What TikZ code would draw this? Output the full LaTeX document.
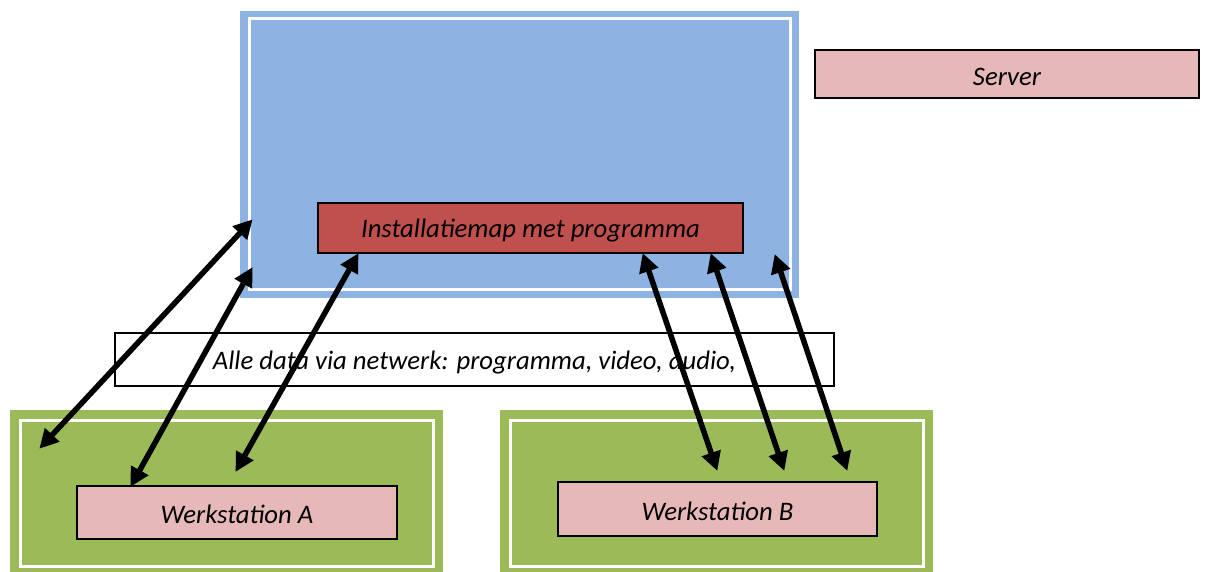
\documentclass[tikz,border=0pt]{standalone}
\usepackage{fontspec}
\setmainfont{Carlito}
\usetikzlibrary{arrows.meta}
\definecolor{srvblue}{HTML}{8DB3E2}
\definecolor{redbox}{HTML}{C0504D}
\definecolor{pinkbox}{HTML}{E6B9B8}
\definecolor{wsgreen}{HTML}{9BBB59}
\tikzset{
  lbl/.style={font=\fontsize{26.7}{32}\selectfont\itshape, inner sep=0pt, draw=black, line width=1.6pt, anchor=center},
  txt/.style={font=\fontsize{26.7}{32}\selectfont\itshape, inner sep=0pt, anchor=center},
  biarrow/.style={line width=5.5pt, {Triangle[length=19pt,width=19pt]}-{Triangle[length=19pt,width=19pt]}, shorten <=-1pt, shorten >=-1pt},
  whiteline/.style={draw=white, line width=3pt}
}
\begin{document}
\begin{tikzpicture}[x=1pt,y=-1pt]
\useasboundingbox (0,0) rectangle (1207,572);
% server region
\fill[srvblue] (240,11) rectangle (799,298);
\draw[whiteline] (249,19) rectangle (790,289);
% workstation regions
\fill[wsgreen] (10,410) rectangle (443,572);
\draw[whiteline] (20,420) rectangle (433,566);
\fill[wsgreen] (500,410) rectangle (933,572);
\draw[whiteline] (510,420) rectangle (923,566);
% boxes
\node[lbl, fill=redbox, minimum width=425pt, minimum height=50pt] (inst) at (530.5,228) {};
\node[txt] at ([yshift=-3pt]inst.center) {Installatiemap met programma};
\node[lbl, fill=pinkbox, minimum width=384pt, minimum height=48pt] (server) at (1007,74) {};
\node[txt] at ([yshift=-3pt]server.center) {Server};
\node[lbl, fill=white, minimum width=719pt, minimum height=53pt] (data) at (474.5,359.5) {};
\node[txt] at ([yshift=-3pt]data.center) {Alle data via netwerk: programma, video, audio,};
\node[lbl, fill=pinkbox, minimum width=320pt, minimum height=53pt] (wsa) at (237,512.5) {};
\node[txt] at ([yshift=-2pt]wsa.center) {Werkstation A};
\node[lbl, fill=pinkbox, minimum width=319pt, minimum height=54pt] (wsb) at (717.5,509) {};
\node[txt] at ([yshift=-2pt]wsb.center) {Werkstation B};
% arrow end points
\coordinate (s1) at (252,220);
\coordinate (s2) at (252,268);
\coordinate (s3) at (358,254);
\coordinate (s4) at (643,254);
\coordinate (s5) at (711,254);
\coordinate (s6) at (775,255);
\coordinate (a1) at (40,448);
\coordinate (a2) at (131,486);
\coordinate (a3) at (236,471);
\coordinate (b1) at (717,470);
\coordinate (b2) at (784,470);
\coordinate (b3) at (847,470);
\draw[biarrow] (s1) -- (a1);
\draw[biarrow] (s2) -- (a2);
\draw[biarrow] (s3) -- (a3);
\draw[biarrow] (s4) -- (b1);
\draw[biarrow] (s5) -- (b2);
\draw[biarrow] (s6) -- (b3);
\end{tikzpicture}
\end{document}
